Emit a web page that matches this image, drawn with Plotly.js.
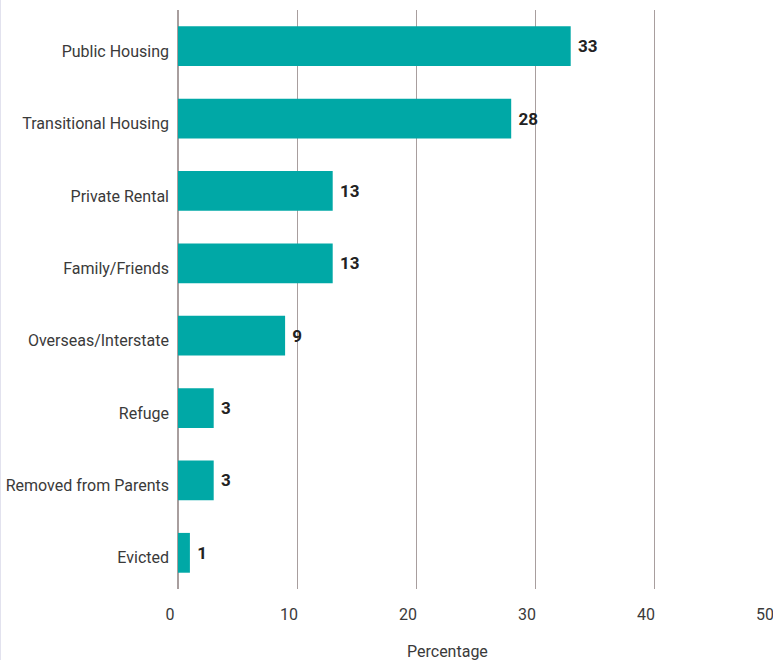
<!DOCTYPE html>
<html>
<head>
<meta charset="utf-8">
<script src="https://cdn.plot.ly/plotly-3.0.1.min.js"></script>
<style>
  html, body { margin: 0; padding: 0; background: #fff; }
  #chart { width: 773px; height: 660px; }
</style>
</head>
<body>
<div id="chart"></div>
<script>
const categories = ["Public Housing", "Transitional Housing", "Private Rental", "Family/Friends",
                    "Overseas/Interstate", "Refuge", "Removed from Parents", "Evicted"];
const values = [33, 28, 13, 13, 9, 3, 3, 1];
const xTicks = [0, 10, 20, 30, 40, 50];
const xTitle = "Percentage";

const trace = {
  type: "bar",
  orientation: "h",
  y: categories,
  x: values,
  text: values.map(v => "\u00a0" + String(v)),
  textposition: "outside",
  cliponaxis: false,
  textfont: { family: "Roboto, sans-serif", size: 17, color: "#222222", weight: "bold" },
  marker: { color: "#00a8a6", line: { width: 0 } },
  hoverinfo: "skip"
};

const layout = {
  width: 773,
  height: 660,
  margin: { l: 178, r: 0, t: 10, b: 71 },
  paper_bgcolor: "#ffffff",
  plot_bgcolor: "#ffffff",
  bargap: 0.45,
  showlegend: false,
  font: { family: "Roboto, sans-serif", size: 16, color: "#3a3a3a" },
  xaxis: {
    range: [0, 50],
    tickvals: xTicks,
    ticktext: xTicks.map(String),
    showgrid: true,
    gridcolor: "#a89e9e",
    gridwidth: 1,
    zeroline: true,
    zerolinecolor: "#a89e9e",
    zerolinewidth: 1.5,
    showline: false,
    ticks: "",
    ticklabelshift: -8,
    ticklabelstandoff: 14,
    ticklabeloverflow: "allow",
    tickfont: { family: "'Liberation Sans Narrow', Roboto, sans-serif", size: 16, color: "#3a3a3a" },
    fixedrange: true
  },
  yaxis: {
    autorange: "reversed",
    type: "category",
    showgrid: false,
    zeroline: false,
    showline: false,
    ticks: "",
    ticklabelstandoff: 8,
    ticklabelshift: -5,
    tickfont: { size: 16, color: "#3a3a3a" },
    fixedrange: true
  },
  annotations: [{
    text: xTitle,
    xref: "paper", yref: "paper",
    x: (447 - 178) / 595, y: 0,
    xanchor: "center", yanchor: "middle",
    yshift: -62,
    showarrow: false,
    font: { size: 16, color: "#3a3a3a" }
  }],
  shapes: [{
    type: "line",
    xref: "paper", yref: "paper",
    x0: -177.5 / 595, x1: -177.5 / 595,
    y0: -71 / 579, y1: 1 + 10 / 579,
    line: { color: "#e2e2ee", width: 1 }
  }]
};

Plotly.newPlot("chart", [trace], layout, { displayModeBar: false, staticPlot: true });
</script>
</body>
</html>
